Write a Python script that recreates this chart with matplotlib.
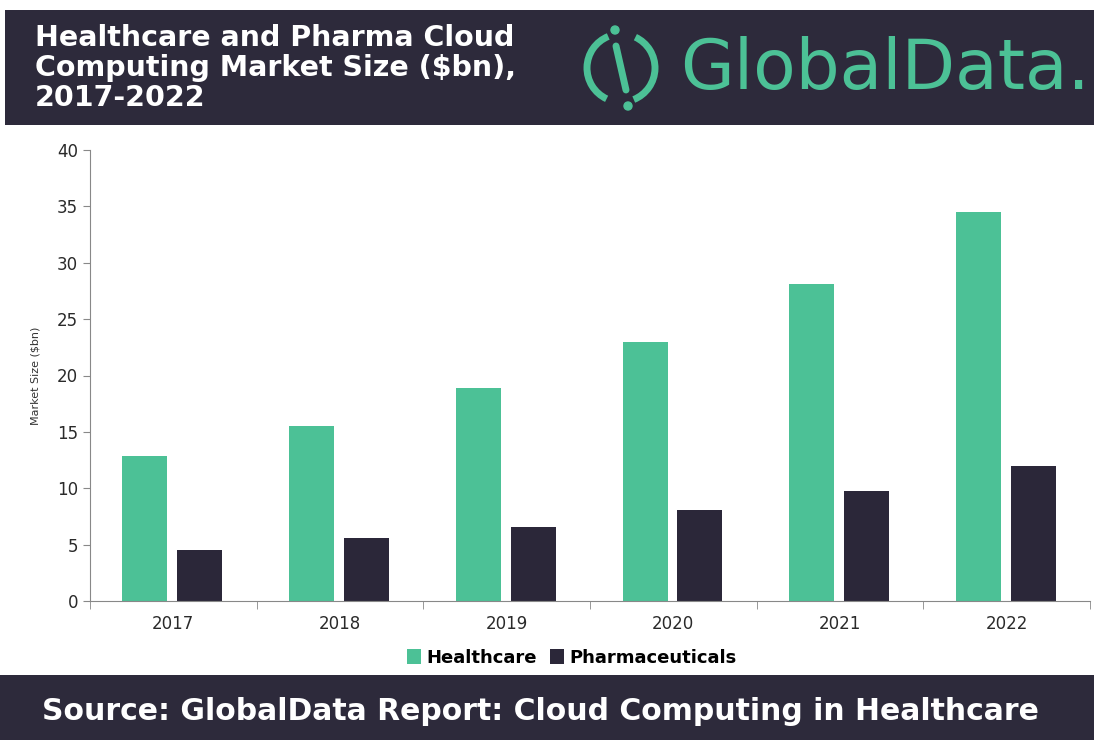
import matplotlib
matplotlib.use('Agg')
import matplotlib.pyplot as plt
from matplotlib.patches import Rectangle, Arc, Circle
import numpy as np

years = ['2017', '2018', '2019', '2020', '2021', '2022']
healthcare = [12.9, 15.5, 18.9, 23.0, 28.1, 34.5]
pharma = [4.5, 5.6, 6.6, 8.1, 9.8, 12.0]

green = '#4cc196'
navy = '#2b2739'
band = '#2d2a3b'

fig = plt.figure(figsize=(10.94, 7.40), dpi=100)
fig.patch.set_facecolor('white')

# header and footer bands (behind everything)
fig.patches.append(Rectangle((0.005, 1 - 125 / 740), 0.995, 115 / 740, transform=fig.transFigure,
                             facecolor=band, edgecolor='none', zorder=-5))
fig.patches.append(Rectangle((0.0, 0.0), 1.0, 65 / 740, transform=fig.transFigure,
                             facecolor=band, edgecolor='none', zorder=-5))

fig.text(35 / 1094, 1 - 68 / 740,
         'Healthcare and Pharma Cloud\nComputing Market Size ($bn),\n2017-2022',
         color='white', fontsize=20.5, fontweight='bold', family='DejaVu Sans',
         va='center', ha='left', linespacing=1.08)

# logo
fig.text(680 / 1094, 1 - 69 / 740, 'GlobalData.', color=green, fontsize=50,
         family='DejaVu Sans', va='center', ha='left')
lax = fig.add_axes([575 / 1094, 1 - 114 / 740, 92 / 1094, 92 / 740])
lax.set_xlim(0, 92)
lax.set_ylim(0, 92)
lax.axis('off')
lax.add_patch(Arc((46, 46), 68, 68, theta1=112, theta2=245, color=green, lw=5))
lax.add_patch(Arc((46, 46), 68, 68, theta1=292, theta2=65, color=green, lw=5))
lax.plot([41, 46, 51], [68, 46, 24], color=green, lw=5, solid_capstyle='round')
lax.add_patch(Circle((40, 84), 4, color=green))
lax.add_patch(Circle((53, 8), 4, color=green))

fig.text(42 / 1094, 1 - 712 / 740, 'Source: GlobalData Report: Cloud Computing in Healthcare',
         color='white', fontsize=21.5, fontweight='bold', family='DejaVu Sans',
         va='center', ha='left')

# main chart
ax = fig.add_axes([90 / 1094, 1 - 601 / 740, 1000 / 1094, 451 / 740])
x = np.arange(len(years))
w = 0.27
ax.bar(x - w / 2 - 0.035, healthcare, width=w, color=green, label='Healthcare')
ax.bar(x + w / 2 + 0.025, pharma, width=w, color=navy, label='Pharmaceuticals')

ax.set_xlim(-0.5, len(years) - 0.5)
ax.set_ylim(0, 40)
ax.set_yticks(range(0, 41, 5))
ax.set_xticks(x)
ax.set_xticklabels(years)
ax.set_xticks(np.arange(-0.5, len(years), 1), minor=True)
ax.tick_params(axis='x', which='major', length=0, pad=10, labelsize=12, labelcolor='#2a2a2a')
ax.tick_params(axis='x', which='minor', length=6, color='#888888', direction='out')
ax.tick_params(axis='y', length=5, color='#888888', labelsize=12, labelcolor='#2a2a2a')
for s in ['top', 'right']:
    ax.spines[s].set_visible(False)
for s in ['left', 'bottom']:
    ax.spines[s].set_color('#888888')
ax.set_ylabel('Market Size ($bn)', fontsize=8, color='#333333', labelpad=12)

ax.legend(loc='upper center', bbox_to_anchor=(0.482, -0.07), ncol=2, frameon=False,
          prop={'weight': 'bold', 'size': 13}, handlelength=0.8, handleheight=0.9,
          handletextpad=0.3, columnspacing=0.7)

fig.savefig('out.png', dpi=100)
